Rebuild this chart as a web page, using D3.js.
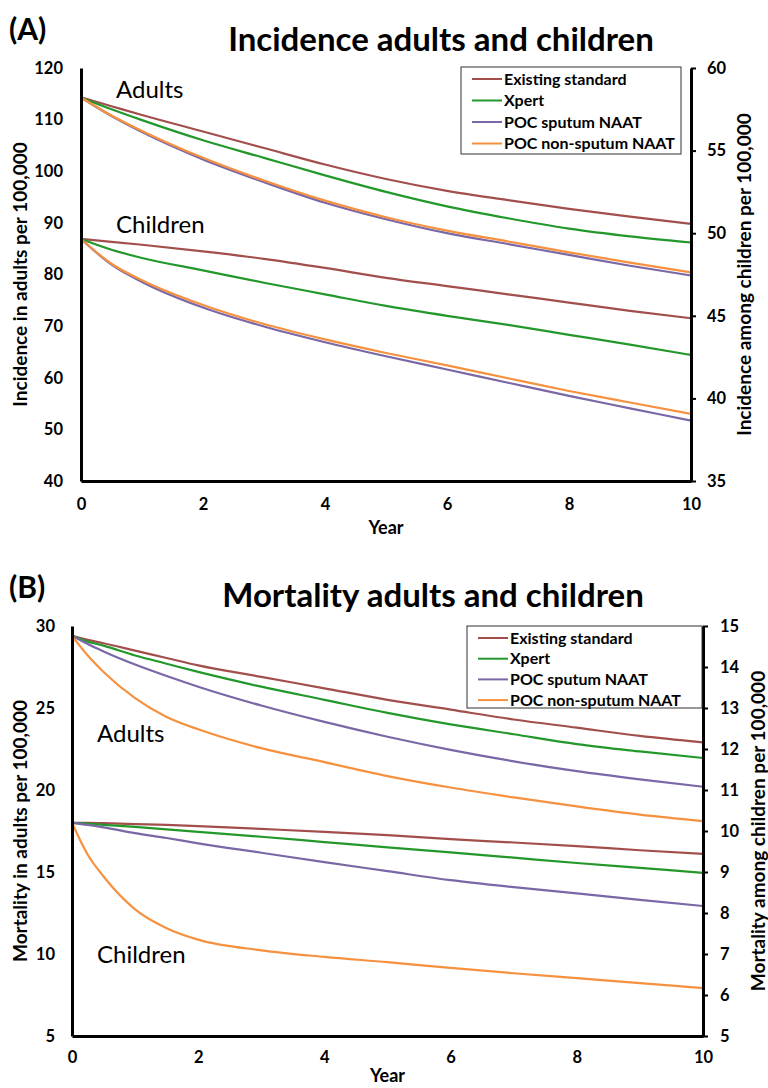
<!DOCTYPE html>
<html>
<head>
<meta charset="utf-8">
<script src="https://cdn.jsdelivr.net/npm/d3@7"></script>
<style>
  body { margin: 0; background: #fff; }
  text { font-family: Lato, "Open Sans", sans-serif; }
</style>
</head>
<body>
<div id="chart"></div>
<script>
// Series names and colours
const seriesNames = ["Existing standard", "Xpert", "POC sputum NAAT", "POC non-sputum NAAT"];
const seriesColors = ["#a24f4c", "#23982a", "#7a67a6", "#f5913f"];

// Panel A: incidence (years sampled)
const yearsA = [0, 0.5, 1, 2, 3, 4, 5, 6, 7, 8, 9, 10];
const incAdultExisting = [114.3, 112.6, 110.9, 107.7, 104.5, 101.3, 98.5, 96.2, 94.4, 92.7, 91.2, 89.8];
const incAdultXpert    = [114.3, 112.0, 109.9, 106.0, 102.6, 99.2, 96.0, 93.2, 90.9, 88.9, 87.4, 86.2];
const incAdultSputum   = [114.3, 110.7, 107.6, 102.3, 97.9, 93.9, 90.7, 88.0, 85.9, 83.8, 81.7, 79.8];
const incAdultNonSput  = [114.3, 110.8, 107.8, 102.6, 98.2, 94.3, 91.1, 88.5, 86.4, 84.3, 82.3, 80.4];
const incChildExisting = [49.65, 49.48, 49.3, 48.9, 48.45, 47.9, 47.3, 46.8, 46.3, 45.8, 45.3, 44.85];
const incChildXpert    = [49.65, 49.0, 48.5, 47.75, 47.0, 46.3, 45.6, 45.0, 44.45, 43.85, 43.25, 42.63];
const incChildSputum   = [49.65, 48.1, 47.05, 45.5, 44.35, 43.4, 42.55, 41.75, 40.95, 40.15, 39.4, 38.65];
const incChildNonSput  = [49.65, 48.15, 47.15, 45.65, 44.5, 43.57, 42.75, 42.0, 41.22, 40.45, 39.75, 39.06];

// Panel B: mortality
const yearsB = [0, 0.25, 0.5, 1, 1.5, 2, 3, 4, 5, 6, 7, 8, 9, 10];
const morAdultExisting = [29.4, 29.15, 28.95, 28.5, 28.05, 27.6, 26.9, 26.2, 25.5, 24.9, 24.3, 23.8, 23.3, 22.9];
const morAdultXpert    = [29.4, 29.05, 28.8, 28.2, 27.7, 27.2, 26.3, 25.5, 24.7, 24.0, 23.4, 22.8, 22.35, 21.95];
const morAdultSputum   = [29.4, 28.9, 28.45, 27.65, 26.95, 26.3, 25.15, 24.15, 23.25, 22.45, 21.75, 21.15, 20.65, 20.2];
const morAdultNonSput  = [29.4, 28.2, 27.2, 25.6, 24.45, 23.7, 22.55, 21.7, 20.85, 20.15, 19.55, 19.0, 18.5, 18.1];
const morChildExisting = [10.2, 10.2, 10.19, 10.17, 10.15, 10.12, 10.05, 9.98, 9.9, 9.8, 9.72, 9.63, 9.53, 9.44];
const morChildXpert    = [10.2, 10.18, 10.15, 10.1, 10.04, 9.98, 9.86, 9.73, 9.6, 9.48, 9.35, 9.22, 9.1, 8.98];
const morChildSputum   = [10.2, 10.15, 10.09, 9.95, 9.83, 9.7, 9.47, 9.24, 9.02, 8.8, 8.63, 8.48, 8.32, 8.17];
const morChildNonSput  = [10.2, 9.42, 8.89, 8.09, 7.63, 7.35, 7.09, 6.93, 6.8, 6.66, 6.53, 6.41, 6.29, 6.17];

// Tick values
const xTicks = [0, 2, 4, 6, 8, 10];
const incLeftTicks = [40, 50, 60, 70, 80, 90, 100, 110, 120];
const incRightTicks = [35, 40, 45, 50, 55, 60];
const morLeftTicks = [5, 10, 15, 20, 25, 30];
const morRightTicks = [5, 6, 7, 8, 9, 10, 11, 12, 13, 14, 15];

const width = 768, height = 1088;
const svg = d3.select("#chart").append("svg")
    .attr("width", width)
    .attr("height", height);
svg.append("rect").attr("width", width).attr("height", height).attr("fill", "white");

function drawPanel(p) {
    const g = svg.append("g");
    const x = d3.scaleLinear().domain([0, 10]).range([p.left, p.right]);
    const yL = d3.scaleLinear().domain(p.leftDomain).range([p.bottom, p.top]);
    const yR = d3.scaleLinear().domain(p.rightDomain).range([p.bottom, p.top]);

    // panel letter and title
    g.append("text").attr("x", 9).attr("y", p.letterY)
        .attr("font-size", 30).attr("font-weight", "bold").text(p.letter);
    g.append("text").attr("x", p.titleX).attr("y", p.titleY)
        .attr("text-anchor", "middle").attr("font-size", 33).attr("font-weight", "bold")
        .text(p.title);

    // lines
    const line = (ys, scale) => d3.line()
        .x((d, i) => x(p.years[i]))
        .y(d => scale(d))
        .curve(d3.curveMonotoneX)(ys);
    p.adults.forEach((s, i) => {
        g.append("path").attr("d", line(s, yL)).attr("fill", "none")
            .attr("stroke", seriesColors[i]).attr("stroke-width", 2.2);
    });
    p.children.forEach((s, i) => {
        g.append("path").attr("d", line(s, yR)).attr("fill", "none")
            .attr("stroke", seriesColors[i]).attr("stroke-width", 2.2);
    });

    // axes
    const ax = g.append("g").attr("transform", `translate(0,${p.bottom})`)
        .call(d3.axisBottom(x).tickValues(xTicks).tickSize(0).tickPadding(p.xPad));
    const al = g.append("g").attr("transform", `translate(${p.left},0)`)
        .call(d3.axisLeft(yL).tickValues(p.leftTicks).tickSize(0).tickPadding(p.lPad));
    const ar = g.append("g").attr("transform", `translate(${p.right},0)`)
        .call(d3.axisRight(yR).tickValues(p.rightTicks).tickSizeInner(5).tickSizeOuter(0).tickPadding(p.rPad));
    [ax, al, ar].forEach(a => {
        a.select(".domain").attr("stroke", "#000").attr("stroke-width", 3);
        a.selectAll(".tick line").attr("stroke", "#000").attr("stroke-width", 2);
        a.selectAll("text").attr("font-size", 16.5).attr("font-weight", "bold")
            .attr("font-family", "Lato, sans-serif").attr("fill", "#000");
    });

    // axis titles
    g.append("text").attr("x", (p.left + p.right) / 2).attr("y", p.yearY)
        .attr("text-anchor", "middle").attr("font-size", 18).attr("font-weight", "bold").text("Year");
    const midY = (p.top + p.bottom) / 2;
    g.append("text").attr("transform", `translate(${p.leftLabelX},${midY}) rotate(-90)`)
        .attr("text-anchor", "middle").attr("font-size", 19).attr("font-weight", "bold")
        .text(p.leftLabel);
    g.append("text").attr("transform", `translate(${p.rightLabelX},${midY}) rotate(-90)`)
        .attr("text-anchor", "middle").attr("font-size", 19).attr("font-weight", "bold")
        .text(p.rightLabel);

    // group annotations
    g.append("text").attr("x", p.annX).attr("y", p.adultsY).attr("font-size", 24).text("Adults");
    g.append("text").attr("x", p.annX).attr("y", p.childrenY).attr("font-size", 24).text("Children");

    // legend
    const lg = g.append("g");
    lg.append("rect").attr("x", p.leg.x).attr("y", p.leg.y).attr("width", p.leg.w).attr("height", p.leg.h)
        .attr("fill", "white").attr("stroke", "#333").attr("stroke-width", 1);
    seriesNames.forEach((n, i) => {
        const yy = p.leg.y + p.leg.first + i * p.leg.step;
        lg.append("line").attr("x1", p.leg.x + 11).attr("x2", p.leg.x + 41)
            .attr("y1", yy).attr("y2", yy).attr("stroke", seriesColors[i]).attr("stroke-width", 2);
        lg.append("text").attr("x", p.leg.x + 43).attr("y", yy).attr("dy", "0.35em")
            .attr("font-size", 16).attr("font-weight", "bold").text(n);
    });
}

drawPanel({
    letter: "(A)", letterY: 40, title: "Incidence adults and children", titleX: 441, titleY: 51,
    left: 81, right: 691, top: 68, bottom: 481, xPad: 17, lPad: 18, rPad: 11, yearY: 534,
    leftDomain: [40, 120], rightDomain: [35, 60], leftTicks: incLeftTicks, rightTicks: incRightTicks,
    years: yearsA,
    adults: [incAdultExisting, incAdultXpert, incAdultSputum, incAdultNonSput],
    children: [incChildExisting, incChildXpert, incChildSputum, incChildNonSput],
    leftLabel: "Incidence in adults per 100,000", rightLabel: "Incidence among children per 100,000",
    leftLabelX: 27, rightLabelX: 751,
    annX: 116, adultsY: 98, childrenY: 233,
    leg: { x: 461, y: 67, w: 220, h: 87, first: 12, step: 21.5 }
});

drawPanel({
    letter: "(B)", letterY: 598, title: "Mortality adults and children", titleX: 433, titleY: 607,
    left: 72, right: 703, top: 626, bottom: 1036, xPad: 15, lPad: 17, rPad: 12, yearY: 1082,
    leftDomain: [5, 30], rightDomain: [5, 15], leftTicks: morLeftTicks, rightTicks: morRightTicks,
    years: yearsB,
    adults: [morAdultExisting, morAdultXpert, morAdultSputum, morAdultNonSput],
    children: [morChildExisting, morChildXpert, morChildSputum, morChildNonSput],
    leftLabel: "Mortality in adults per 100,000", rightLabel: "Mortality among children per 100,000",
    leftLabelX: 27, rightLabelX: 765,
    annX: 97, adultsY: 742, childrenY: 963,
    leg: { x: 467, y: 626, w: 235, h: 82, first: 12, step: 20.7 }
});
</script>
</body>
</html>
